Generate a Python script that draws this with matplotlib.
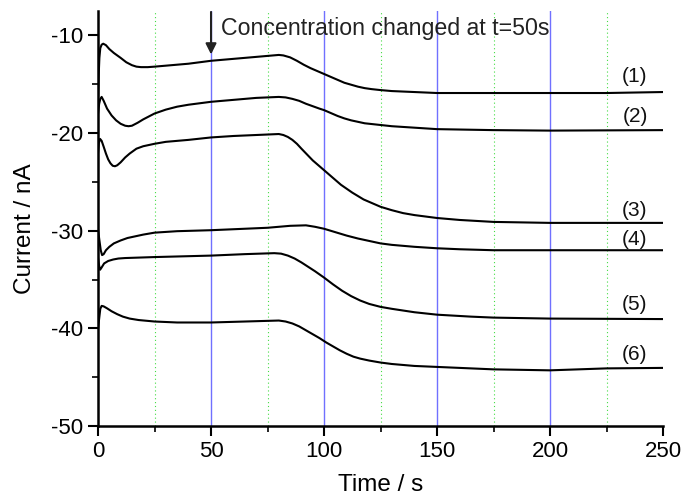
import numpy as np
import matplotlib
matplotlib.use("Agg")
import matplotlib.pyplot as plt
from matplotlib.ticker import MultipleLocator

plt.rcParams['font.family'] = ['Liberation Sans', 'DejaVu Sans']
plt.rcParams['axes.unicode_minus'] = False

# readings
t1 = [0, 0.3, 0.6, 1, 1.6, 2.3, 3.5, 5, 7, 10, 12.5, 15, 17, 19, 22, 25, 30, 40, 50,
      60, 70, 75, 80, 82, 85, 88, 91, 94, 97, 100, 103, 106, 109, 112, 115, 118,
      121, 125, 130, 140, 150, 175, 200, 225, 250]
y1 = [-16.5, -14.0, -12.3, -11.3, -10.95, -10.85, -11.0, -11.4, -11.8, -12.3,
      -12.75, -13.05, -13.2, -13.25, -13.25, -13.2, -13.1, -12.9, -12.6, -12.4,
      -12.2, -12.1, -12.0, -12.05, -12.25, -12.6, -13.0, -13.35, -13.65, -13.95,
      -14.25, -14.55, -14.85, -15.05, -15.25, -15.4, -15.5, -15.6, -15.7, -15.8,
      -15.9, -15.9, -15.9, -15.9, -15.8]

t2 = [0, 0.5, 1, 1.6, 2.5, 4, 6, 8, 10, 12, 13.5, 15, 17.5, 20, 22.5, 25, 30, 35,
      40, 50, 60, 70, 80, 83, 86, 89, 92, 95, 98, 100, 103, 106, 109, 112, 115,
      118, 122, 126, 130, 140, 150, 175, 200, 250]
y2 = [-18.0, -17.0, -16.5, -16.3, -16.7, -17.5, -18.2, -18.7, -19.05, -19.25, -19.3,
      -19.25, -18.95, -18.6, -18.3, -18.0, -17.6, -17.3, -17.1, -16.8, -16.6, -16.4,
      -16.3, -16.35, -16.5, -16.7, -17.0, -17.25, -17.5, -17.65, -17.95, -18.25,
      -18.5, -18.7, -18.85, -19.0, -19.1, -19.2, -19.3, -19.45, -19.6, -19.7,
      -19.75, -19.7]

t3 = [0, 0.4, 0.9, 1.6, 2.5, 3.5, 4.5, 5.5, 6.5, 7.5, 8.5, 10, 12, 14, 17, 20, 25,
      30, 40, 50, 60, 70, 80, 82, 84, 86, 88, 90, 92.5, 95, 97.5, 100, 102.5, 105,
      107.5, 110, 112.5, 115, 117.5, 120, 122.5, 125, 130, 135, 140, 150, 160, 175,
      200, 250]
y3 = [-22.0, -21.0, -20.6, -20.8, -21.4, -22.1, -22.7, -23.1, -23.35, -23.4, -23.3,
      -23.0, -22.5, -22.1, -21.6, -21.35, -21.1, -20.9, -20.7, -20.45, -20.3, -20.2,
      -20.1, -20.2, -20.4, -20.7, -21.1, -21.6, -22.2, -22.8, -23.3, -23.8, -24.3,
      -24.8, -25.3, -25.7, -26.1, -26.45, -26.8, -27.05, -27.3, -27.55, -27.9,
      -28.2, -28.4, -28.7, -28.9, -29.1, -29.2, -29.2]

t4 = [0, 0.5, 1.2, 1.8, 2.5, 3.5, 5, 7, 10, 13, 16, 20, 25, 35, 50, 75, 85, 92, 96,
      100, 105, 110, 115, 120, 125, 130, 140, 150, 160, 175, 200, 250]
y4 = [-29.9, -30.8, -32.0, -32.5, -32.4, -32.0, -31.65, -31.3, -31.0, -30.75,
      -30.6, -30.4, -30.2, -30.05, -29.95, -29.7, -29.5, -29.45, -29.6, -29.8,
      -30.15, -30.5, -30.8, -31.05, -31.3, -31.45, -31.65, -31.8, -31.9, -32.0,
      -32.0, -32.0]

t5 = [0, 0.5, 0.9, 1.5, 2.7, 4.5, 6.7, 9, 12, 25, 50, 65, 78, 81, 84, 87, 90, 93,
      96, 100, 104, 108, 112, 116, 120, 125, 130, 140, 150, 165, 175, 200, 250]
y5 = [-32.8, -33.6, -34.0, -33.8, -33.35, -33.1, -32.95, -32.85, -32.8, -32.7,
      -32.55, -32.4, -32.3, -32.35, -32.55, -32.85, -33.25, -33.7, -34.15, -34.8,
      -35.5, -36.15, -36.7, -37.15, -37.5, -37.8, -38.0, -38.35, -38.6, -38.8,
      -38.9, -39.0, -39.05]

t6 = [0, 0.5, 1, 1.6, 2.5, 4, 6, 8.5, 11, 14, 18, 25, 35, 50, 65, 80, 83, 86, 89,
      92, 95, 98, 101, 104, 107, 110, 113, 116, 120, 125, 130, 140, 150, 175, 200,
      225, 250]
y6 = [-40.0, -39.0, -38.0, -37.7, -37.75, -37.95, -38.25, -38.55, -38.8, -39.0,
      -39.15, -39.3, -39.4, -39.4, -39.3, -39.2, -39.3, -39.5, -39.8, -40.2, -40.6,
      -41.0, -41.45, -41.85, -42.25, -42.6, -42.9, -43.1, -43.3, -43.5, -43.65,
      -43.85, -43.95, -44.2, -44.3, -44.1, -44.05]

labels = ['(1)', '(2)', '(3)', '(4)', '(5)', '(6)']
label_y = [-14.2, -18.3, -27.9, -30.9, -37.6, -42.7]

fig = plt.figure(figsize=(6.86, 4.95), dpi=100)
ax = fig.add_axes([0.1429, 0.1394, 0.8236, 0.8384])

# grid: blue solid at majors, green dotted at minors
for x in [50, 100, 150, 200]:
    ax.axvline(x, color='#7070ff', lw=1.0, zorder=1)
for x in [25, 75, 125, 175, 225]:
    ax.axvline(x, color='#44dd44', lw=0.8, ls=(0, (1, 2.5)), zorder=1)

for t, y in [(t1, y1), (t2, y2), (t3, y3), (t4, y4), (t5, y5), (t6, y6)]:
    ax.plot(t, y, color='black', lw=1.5, zorder=3)

for lab, ly in zip(labels, label_y):
    ax.text(237.6, ly, lab, fontsize=15, ha='center', va='center', color='#111111')

ax.annotate('', xy=(50, -11.95), xytext=(50, -7.6),
            arrowprops=dict(arrowstyle='-|>', color='#222222', lw=1.5,
                            mutation_scale=16, shrinkA=0, shrinkB=0), zorder=4)
ax.text(54.5, -9.3, 'Concentration changed at t=50s', fontsize=16.7,
        ha='left', va='center', color='#222222')

ax.set_xlim(0, 250)
ax.set_ylim(-50, -7.5)
ax.xaxis.set_major_locator(MultipleLocator(50))
ax.xaxis.set_minor_locator(MultipleLocator(25))
ax.yaxis.set_major_locator(MultipleLocator(10))
ax.yaxis.set_minor_locator(MultipleLocator(5))
ax.tick_params(which='major', direction='out', length=7, width=1.5, labelsize=16)
ax.tick_params(which='minor', direction='out', length=4, width=1.2)
ax.spines['top'].set_visible(False)
ax.spines['right'].set_visible(False)
ax.spines['left'].set_linewidth(1.8)
ax.spines['bottom'].set_linewidth(1.8)

ax.set_xlabel('Time / s', fontsize=17.5)
ax.set_ylabel('Current / nA', fontsize=17.5)
ax.xaxis.set_label_coords(0.5, -0.115)
ax.yaxis.set_label_coords(-0.11, 0.475)

fig.savefig('out.png', dpi=100)
